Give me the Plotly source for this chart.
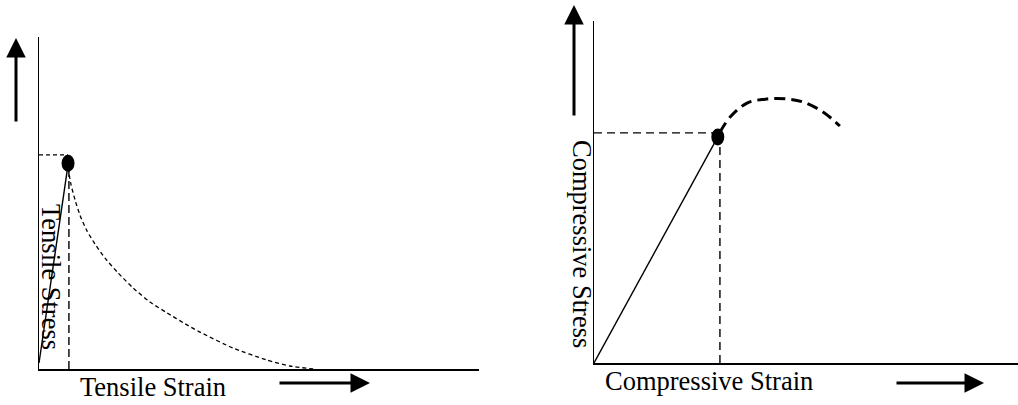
import plotly.graph_objects as go

# ---------------- data (arbitrary strain / stress units, 0-100) ----------------
# Tensile panel
tensile_linear_strain = [0.0, 6.6]
tensile_linear_stress = [1.8, 61.5]
tensile_peak = (6.6, 62.0)
tensile_peak_stress_guide = 64.5
tensile_peak_strain_guide = 6.8
tensile_soft_strain = [6.6, 7.3, 8.2, 9.3, 10.9, 12.7, 15.0, 18.0, 21.4, 25.2, 29.1,
                       33.2, 36.6, 44.1, 51.8, 57.0, 62.3]
tensile_soft_stress = [60.5, 55.4, 50.9, 46.4, 41.6, 37.7, 33.4, 28.9, 24.4, 20.2, 16.9,
                       13.6, 11.1, 6.3, 2.7, 0.9, 0.0]

# Compressive panel
comp_linear_strain = [0.0, 29.2]
comp_linear_stress = [0.0, 66.1]
comp_peak = (29.2, 66.1)
comp_peak_stress_guide = 67.3
comp_peak_strain_guide = 29.7
comp_post_strain = [29.7, 32.1, 36.1, 40.8, 45.5, 49.3, 54.0, 58.0]
comp_post_stress = [67.5, 71.9, 76.0, 77.2, 77.2, 76.3, 73.4, 69.3]

labels = {
    "tx": "Tensile Strain",
    "ty": "Tensile Stress",
    "cx": "Compressive Strain",
    "cy": "Compressive Stress",
}

# ---------------- layout helpers (pixel -> paper) ----------------
W, H = 1018, 405
def fx(px):
    return px / W
def fy(py):
    return 1 - py / H

FONT = "Liberation Serif, Times New Roman, serif"
BLACK = "#000000"

fig = go.Figure()

# Tensile panel traces
fig.add_trace(go.Scatter(x=tensile_linear_strain, y=tensile_linear_stress, mode="lines",
                         line=dict(color=BLACK, width=1.4), xaxis="x", yaxis="y"))
fig.add_trace(go.Scatter(x=[0, tensile_peak[0]], y=[tensile_peak_stress_guide] * 2, mode="lines",
                         line=dict(color=BLACK, width=1.3, dash="4px,3px"), xaxis="x", yaxis="y"))
fig.add_trace(go.Scatter(x=[tensile_peak_strain_guide] * 2, y=[0, tensile_soft_stress[0]], mode="lines",
                         line=dict(color=BLACK, width=1.4, dash="8px,4px"), xaxis="x", yaxis="y"))
fig.add_trace(go.Scatter(x=tensile_soft_strain, y=tensile_soft_stress, mode="lines",
                         line=dict(color=BLACK, width=1.3, dash="4px,3px", shape="spline", smoothing=0.6),
                         xaxis="x", yaxis="y"))

# Compressive panel traces
fig.add_trace(go.Scatter(x=comp_linear_strain, y=comp_linear_stress, mode="lines",
                         line=dict(color=BLACK, width=1.4), xaxis="x2", yaxis="y2"))
fig.add_trace(go.Scatter(x=[0, comp_peak[0]], y=[comp_peak_stress_guide] * 2, mode="lines",
                         line=dict(color=BLACK, width=1.4, dash="8px,5px"), xaxis="x2", yaxis="y2"))
fig.add_trace(go.Scatter(x=[comp_peak_strain_guide] * 2, y=[0, comp_peak[1] - 1], mode="lines",
                         line=dict(color=BLACK, width=1.4, dash="8px,5px"), xaxis="x2", yaxis="y2"))
fig.add_trace(go.Scatter(x=comp_post_strain, y=comp_post_stress, mode="lines",
                         line=dict(color=BLACK, width=3, dash="11px,6px", shape="spline"),
                         xaxis="x2", yaxis="y2"))

# Peak dots (slightly tall ellipses)
for (px_, py_), xr, yr in [(tensile_peak, "x", "y"), (comp_peak, "x2", "y2")]:
    fig.add_shape(type="circle", xref=xr, yref=yr, xsizemode="pixel", ysizemode="pixel",
                  xanchor=px_, yanchor=py_, x0=-6.5, x1=6.5, y0=-8.5, y1=8.5,
                  fillcolor=BLACK, line=dict(color=BLACK, width=0))

axis_common = dict(showgrid=False, zeroline=False, showticklabels=False, ticks="",
                   showline=True, linecolor=BLACK, linewidth=1.5, range=[0, 100], fixedrange=True)

fig.update_layout(
    width=W, height=H, margin=dict(l=0, r=0, t=0, b=0),
    paper_bgcolor="white", plot_bgcolor="white", showlegend=False,
    xaxis=dict(domain=[fx(39), fx(479)], anchor="y", **axis_common),
    yaxis=dict(domain=[fy(369), fy(37)], anchor="x", **axis_common),
    xaxis2=dict(domain=[fx(594), 1.0], anchor="y2", **axis_common),
    yaxis2=dict(domain=[fy(363), fy(21)], anchor="x2", **axis_common),
)

# Text labels
text_font = dict(family=FONT, size=26.5, color=BLACK)
fig.add_annotation(text=labels["tx"], x=fx(153), y=fy(387), xref="paper", yref="paper",
                   showarrow=False, font=text_font, xanchor="center", yanchor="middle")
fig.add_annotation(text=labels["cx"], x=fx(709), y=fy(381), xref="paper", yref="paper",
                   showarrow=False, font=text_font, xanchor="center", yanchor="middle")
fig.add_annotation(text=labels["ty"], x=fx(51), y=fy(277), xref="paper", yref="paper",
                   showarrow=False, font=text_font, textangle=90, xanchor="center", yanchor="middle")
fig.add_annotation(text=labels["cy"], x=fx(582), y=fy(244), xref="paper", yref="paper",
                   showarrow=False, font=text_font, textangle=90, xanchor="center", yanchor="middle")

# Direction arrows: (tip_px, tip_py, tail_px, tail_py)
arrows = [(16, 38, 16, 123), (574, 5, 574, 117), (370, 383, 278, 383), (984, 383, 895, 383)]
for tx, ty, sx, sy in arrows:
    fig.add_annotation(x=fx(tx), y=fy(ty), xref="paper", yref="paper", text="",
                       showarrow=True, ax=sx - tx, ay=sy - ty, axref="pixel", ayref="pixel",
                       arrowhead=2, arrowsize=1.3, arrowwidth=3, arrowcolor=BLACK)

fig.write_html("out.html",
               config={"displayModeBar": False, "staticPlot": True},
               post_script="document.body.style.margin='0';document.body.style.overflow='hidden';")
